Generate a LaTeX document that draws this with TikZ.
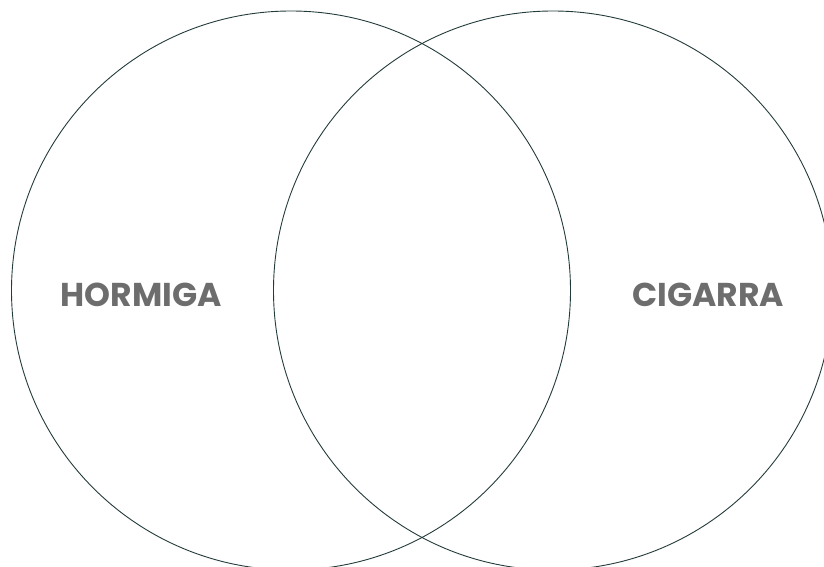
\documentclass[tikz,border=0pt]{standalone}
\usepackage{fontspec}
\setmainfont{Poppins}
\definecolor{linec}{HTML}{243B3B}
\definecolor{textc}{HTML}{6D6D6D}
\begin{document}
\begin{tikzpicture}[x=1pt,y=-1pt,
  setcircle/.style={draw=linec,line width=0.9pt},
  setlabel/.style={text=textc,font=\fontsize{33}{33}\selectfont\bfseries,inner sep=0pt}]
\useasboundingbox (0,0) rectangle (824,567);
\clip (0,0) rectangle (824,567);
\node[setcircle,circle,minimum size=559pt,inner sep=0pt] (left) at (291,290.5) {};
\node[setcircle,circle,minimum size=559pt,inner sep=0pt] (right) at (553,290.5) {};
\node[setlabel] (hormiga) at (141,295) {HORMIGA};
\node[setlabel] (cigarra) at (708,295) {CIGARRA};
\end{tikzpicture}
\end{document}
